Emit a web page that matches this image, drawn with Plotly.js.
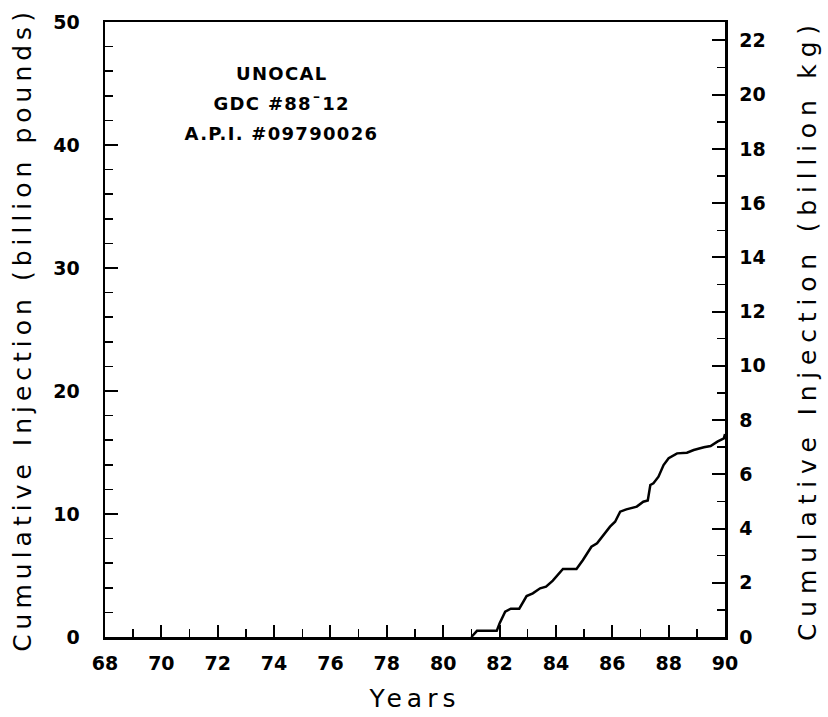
<!DOCTYPE html>
<html>
<head>
<meta charset="utf-8">
<script src="https://cdn.plot.ly/plotly-3.0.1.min.js"></script>
<style>
html,body{margin:0;padding:0;background:#fff;}
#chart{width:828px;height:717px;}
#chart text.ytitle{letter-spacing:5.0px !important;}
#chart text.y2title{letter-spacing:6.8px !important;}
#chart text.xtitle{letter-spacing:5px !important;}
#chart text.annotation-text{letter-spacing:1.3px !important;}
</style>
</head>
<body>
<div id="chart"></div>
<script>
// Years (19xx) and cumulative injection (billion pounds)
const years = [81.0, 81.2, 81.9, 82.0, 82.2, 82.4, 82.7, 82.96, 83.18, 83.44, 83.65, 83.89, 84.25, 84.73, 84.96, 85.26, 85.46, 85.92, 86.1, 86.28, 86.5, 86.87, 87.1, 87.26, 87.35, 87.46, 87.64, 87.82, 88.0, 88.3, 88.65, 88.89, 89.25, 89.49, 89.73, 89.96, 90.0];
const injectionLb = [0, 0.5, 0.5, 1.1, 2.06, 2.3, 2.3, 3.33, 3.55, 3.96, 4.09, 4.58, 5.53, 5.53, 6.26, 7.34, 7.62, 8.97, 9.37, 10.19, 10.38, 10.6, 11.0, 11.1, 12.36, 12.5, 13.03, 13.98, 14.53, 14.93, 14.98, 15.2, 15.42, 15.53, 15.88, 16.15, 16.5];
const xTickVals = [68, 70, 72, 74, 76, 78, 80, 82, 84, 86, 88, 90];
const LB_TO_KG = 0.45359237;
const injectionKg = injectionLb.map(v => v * LB_TO_KG);
const annotationLines = ["UNOCAL", "GDC #88¯12", "A.P.I. #09790026"];

const tickFont = {family: "DejaVu Sans", size: 19, color: "#000", weight: "bold"};
const titleFont = {family: "DejaVu Sans", size: 25, color: "#000"};

const traces = [
  {x: years, y: injectionLb, type: "scatter", mode: "lines",
   line: {color: "#000", width: 2.5}, hoverinfo: "skip", showlegend: false},
  {x: years, y: injectionKg, type: "scatter", mode: "lines", yaxis: "y2",
   line: {color: "rgba(0,0,0,0)", width: 0}, hoverinfo: "skip", showlegend: false}
];

const layout = {
  width: 828, height: 717,
  margin: {l: 105, r: 103, t: 22, b: 80},
  paper_bgcolor: "#fff", plot_bgcolor: "#fff",
  showlegend: false,
  xaxis: {
    range: [68, 90], tickvals: xTickVals, ticktext: xTickVals.map(String),
    ticks: "inside", ticklen: 12, tickwidth: 2, tickcolor: "#000",
    minor: {dtick: 1, tick0: 68, ticks: "inside", ticklen: 8, tickwidth: 1.5, tickcolor: "#000"},
    showline: true, linewidth: 2.5, linecolor: "#000", mirror: true,
    showgrid: false, zeroline: false, tickfont: tickFont, ticklabelstandoff: 8,
    title: {text: "Years", font: titleFont, standoff: 16}
  },
  yaxis: {
    range: [0, 50], dtick: 10, tick0: 0,
    ticks: "inside", ticklen: 13, tickwidth: 2, tickcolor: "#000",
    minor: {dtick: 2, tick0: 0, ticks: "inside", ticklen: 8, tickwidth: 1.5, tickcolor: "#000"},
    showline: true, linewidth: 2.5, linecolor: "#000",
    showgrid: false, zeroline: false, tickfont: tickFont, ticklabelstandoff: 19,
    title: {text: "Cumulative Injection (billion pounds)", font: titleFont, standoff: 15}
  },
  yaxis2: {
    overlaying: "y", side: "right",
    range: [0, 50 * LB_TO_KG], dtick: 2, tick0: 0,
    ticks: "inside", ticklen: 13, tickwidth: 2, tickcolor: "#000",
    minor: {dtick: 1, tick0: 0, ticks: "inside", ticklen: 8, tickwidth: 1.5, tickcolor: "#000"},
    showline: true, linewidth: 2.5, linecolor: "#000",
    showgrid: false, zeroline: false, tickfont: tickFont, ticklabelstandoff: 8,
    title: {text: "Cumulative Injection (billion kg)\u00a0\u00a0\u00a0", font: titleFont, standoff: 34}
  },
  annotations: annotationLines.map((t, i) => ({
    text: t, xref: "paper", yref: "paper", x: 0.285, y: 0.917 - i * 0.049,
    xanchor: "center", yanchor: "middle", showarrow: false,
    font: {family: "DejaVu Sans", size: 18, color: "#000", weight: "bold"}
  }))
};

Plotly.newPlot("chart", traces, layout, {displayModeBar: false, staticPlot: true});
</script>
</body>
</html>
